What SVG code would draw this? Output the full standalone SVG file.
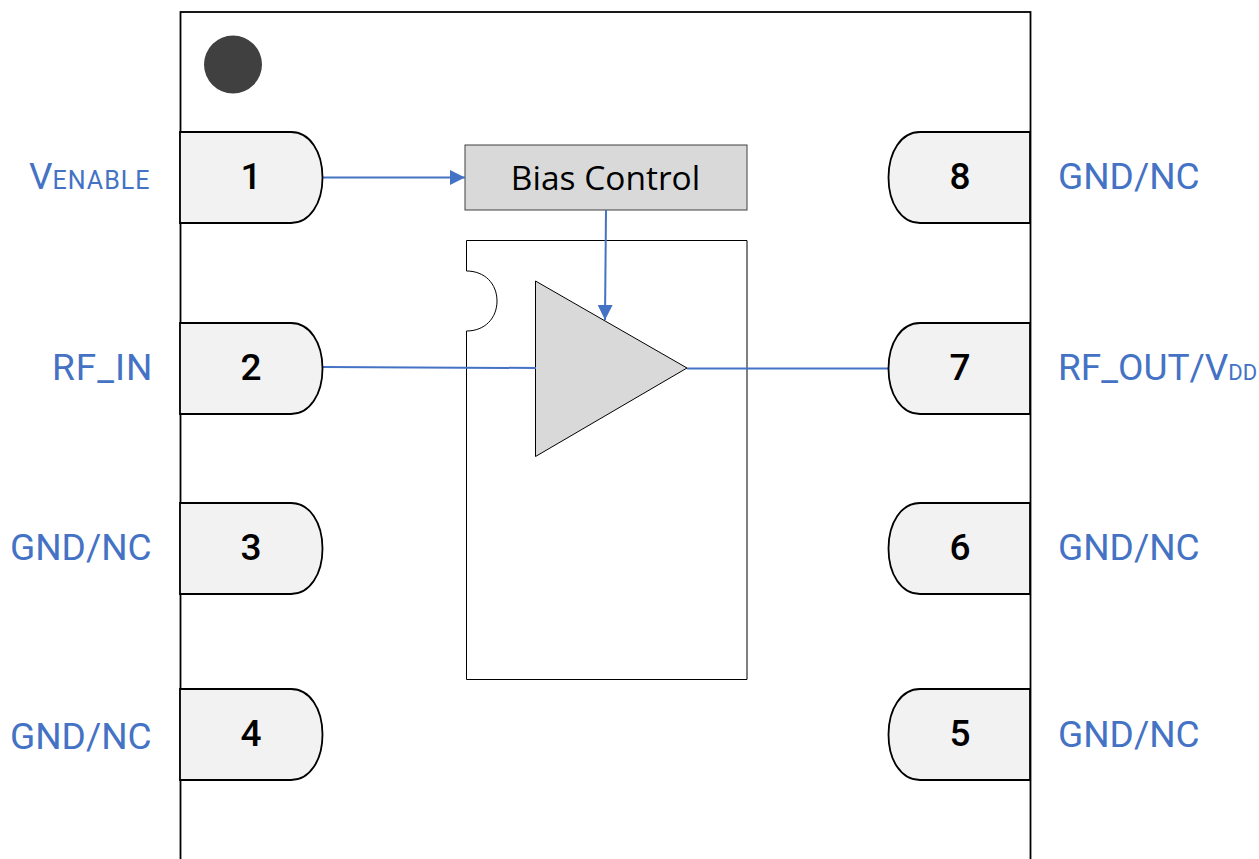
<svg xmlns="http://www.w3.org/2000/svg" width="1259" height="859" viewBox="0 0 1259 859">
<style>
.pin{fill:#f2f2f2;stroke:#000;stroke-width:1.8}
.num{font:500 37px Roboto,sans-serif;fill:#000;text-anchor:middle}
.lab{font:400 37px Roboto,sans-serif;fill:#4472c4}
.sm{font-size:25px;letter-spacing:1px}
.sub{font-size:22px}
.wire{fill:none;stroke:#4472c4;stroke-width:2}
</style>
<defs>
<marker id="arrow" markerUnits="userSpaceOnUse" markerWidth="15" markerHeight="15" refX="15" refY="7.500" orient="auto"><path d="M0,0L15,7.500L0,15Z" fill="#4472c4"/></marker>
<path id="pinL" d="M180,0H291C310,0 322.500,20 322.500,45.500C322.500,71 310,91 291,91H180Z"/>
<path id="pinR" d="M1030,0H920C901,0 888.500,20 888.500,45.500C888.500,71 901,91 920,91H1030Z"/>
</defs>
<rect id="package" x="180.500" y="12" width="850" height="860" fill="#fff" stroke="#000" stroke-width="1.800"/>
<circle id="dot" cx="233" cy="64.500" r="29" fill="#404040"/>
<g id="die"><path d="M466.500,240.500H747V679.500H466.500V331C485,331 497,318 497,301C497,284 485,271 466.500,271Z" fill="#fff" stroke="#000" stroke-width="1"/></g>
<g id="bias"><rect x="465" y="145" width="282" height="65" fill="#d9d9d9" stroke="#404040" stroke-width="1"/><text x="605.500" y="190" font-family="'Open Sans',sans-serif" font-size="33.500" text-anchor="middle">Bias Control</text></g>
<g id="amp"><path d="M535.500,281L687,368L535.500,456.500Z" fill="#d9d9d9" stroke="#000" stroke-width="1"/></g>
<g id="connectors">
<path class="wire" d="M323,177.500H465" marker-end="url(#arrow)"/>
<path class="wire" d="M606,210L605,320" marker-end="url(#arrow)"/>
<path class="wire" d="M323,367L536,368"/>
<path class="wire" d="M687,368.500H888"/>
</g>
<g id="pin1"><use href="#pinL" class="pin" y="132"/><text class="num" x="251" y="189">1</text><text class="lab" x="29" y="189">V<tspan class="sm">ENABLE</tspan></text></g>
<g id="pin2"><use href="#pinL" class="pin" y="323"/><text class="num" x="251" y="380">2</text><text class="lab" x="52" y="380" letter-spacing="1">RF_IN</text></g>
<g id="pin3"><use href="#pinL" class="pin" y="503"/><text class="num" x="251" y="560">3</text><text class="lab" x="10" y="560">GND/NC</text></g>
<g id="pin4"><use href="#pinL" class="pin" y="689"/><text class="num" x="251" y="746">4</text><text class="lab" x="10" y="749">GND/NC</text></g>
<g id="pin8"><use href="#pinR" class="pin" y="132"/><text class="num" x="960" y="189">8</text><text class="lab" x="1058" y="189">GND/NC</text></g>
<g id="pin7"><use href="#pinR" class="pin" y="323"/><text class="num" x="960" y="380">7</text><text class="lab" x="1058" y="380">RF_OUT/V<tspan class="sub">DD</tspan></text></g>
<g id="pin6"><use href="#pinR" class="pin" y="503"/><text class="num" x="960" y="560">6</text><text class="lab" x="1058" y="560">GND/NC</text></g>
<g id="pin5"><use href="#pinR" class="pin" y="689"/><text class="num" x="960" y="746">5</text><text class="lab" x="1058" y="747">GND/NC</text></g>
</svg>
